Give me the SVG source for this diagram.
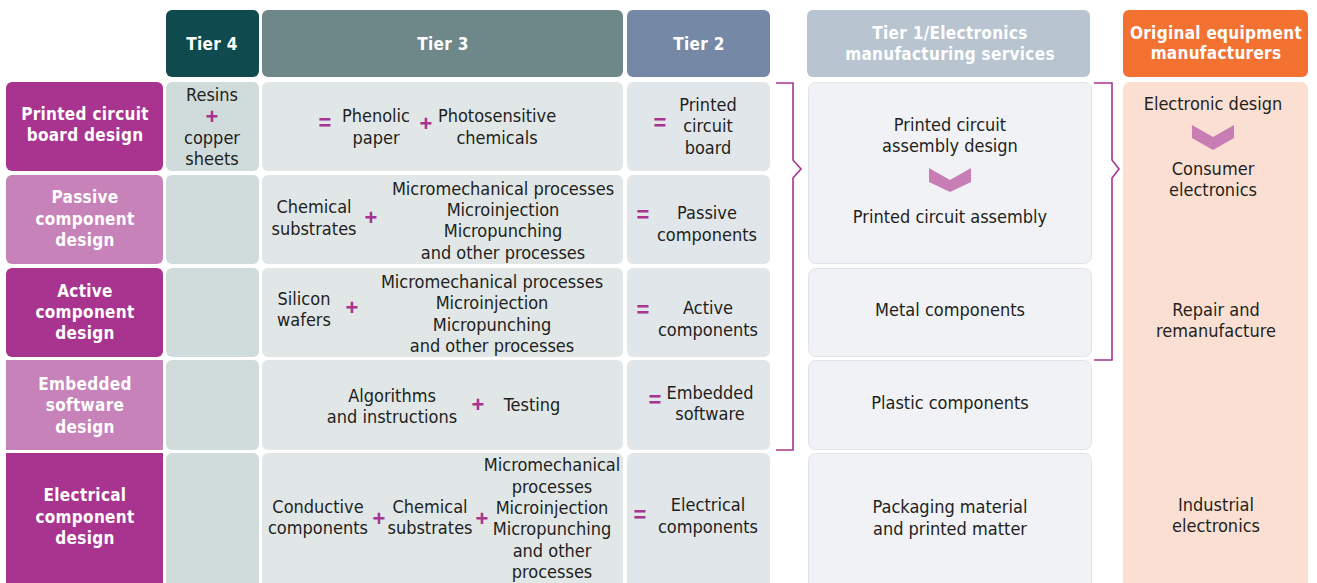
<svg xmlns="http://www.w3.org/2000/svg" width="1317" height="583" viewBox="0 0 1317 583">
<style>
.t{font-family:"DejaVu Sans Condensed","Liberation Sans",sans-serif;font-size:18px;fill:#231f20;text-anchor:middle}
.h{font-family:"DejaVu Sans Condensed","Liberation Sans",sans-serif;font-size:17px;font-weight:bold;fill:#ffffff;text-anchor:middle;letter-spacing:0.3px}
.op{font-family:"Liberation Sans","DejaVu Sans",sans-serif;font-size:22px;font-weight:bold;fill:#a8348f;text-anchor:middle}
.dk{fill:#a8348f}
.lt{fill:#c882ba}
.c4{fill:#d0dcdc}
.c3{fill:#e1e6e7}
.c2{fill:#e1e6ea}
.c1{fill:#f0f2f6;stroke:#dfe4ea;stroke-width:1}
.br{fill:none;stroke:#a8348f;stroke-width:1.6}
.chev{fill:#c87db5}
</style>

<g id="header-tier4"><rect x="166" y="10" width="93" height="67" rx="6" fill="#0f4a4e"/><text class="h" x="212" y="50">Tier 4</text></g>
<g id="header-tier3"><rect x="262" y="10" width="361" height="67" rx="6" fill="#6e8789"/><text class="h" x="443" y="50">Tier 3</text></g>
<g id="header-tier2"><rect x="627" y="10" width="143" height="67" rx="6" fill="#7589a6"/><text class="h" x="699" y="50">Tier 2</text></g>
<g id="header-tier1"><rect x="807" y="10" width="283" height="67" rx="6" fill="#b8c4cf"/><text class="h" x="950" y="39">Tier 1/Electronics</text><text class="h" x="950" y="60">manufacturing services</text></g>
<g id="header-oem"><rect x="1123" y="10" width="185" height="67" rx="6" fill="#f37232"/><text class="h" x="1216" y="39">Original equipment</text><text class="h" x="1216" y="59">manufacturers</text></g>

<g id="row-pcb-design"><rect class="dk" x="6" y="82" width="157" height="89" rx="6"/><text class="h" x="85" y="120">Printed circuit</text><text class="h" x="85" y="141">board design</text></g>
<g id="row-passive-design"><rect class="lt" x="6" y="175" width="157" height="89" rx="6"/><text class="h" x="85" y="203">Passive</text><text class="h" x="85" y="225">component</text><text class="h" x="85" y="246">design</text></g>
<g id="row-active-design"><rect class="dk" x="6" y="268" width="157" height="89" rx="6"/><text class="h" x="85" y="297">Active</text><text class="h" x="85" y="318">component</text><text class="h" x="85" y="339">design</text></g>
<g id="row-embedded-design"><rect class="lt" x="6" y="360" width="157" height="90"/><text class="h" x="85" y="390">Embedded</text><text class="h" x="85" y="411">software</text><text class="h" x="85" y="433">design</text></g>
<g id="row-electrical-design"><rect class="dk" x="6" y="453" width="157" height="140"/><text class="h" x="85" y="501">Electrical</text><text class="h" x="85" y="523">component</text><text class="h" x="85" y="544">design</text></g>

<g id="tier4-cells">
<rect class="c4" x="166" y="82" width="93" height="89" rx="6"/>
<rect class="c4" x="166" y="175" width="93" height="89" rx="6"/>
<rect class="c4" x="166" y="268" width="93" height="89" rx="6"/>
<rect class="c4" x="166" y="360" width="93" height="90" rx="6"/>
<rect class="c4" x="166" y="453" width="93" height="140" rx="6"/>
<text class="t" x="212" y="101">Resins</text><text class="op" x="212" y="124">+</text><text class="t" x="212" y="144">copper</text><text class="t" x="212" y="165">sheets</text>
</g>

<g id="tier3-cells">
<rect class="c3" x="262" y="82" width="361" height="89" rx="6"/>
<rect class="c3" x="262" y="175" width="361" height="89" rx="6"/>
<rect class="c3" x="262" y="268" width="361" height="89" rx="6"/>
<rect class="c3" x="262" y="360" width="361" height="90" rx="6"/>
<rect class="c3" x="262" y="453" width="361" height="140" rx="6"/>
</g>

<g id="tier3-pcb">
<text class="op" x="325" y="130">=</text>
<text class="t" x="376" y="122">Phenolic</text><text class="t" x="376" y="144">paper</text>
<text class="op" x="426" y="131">+</text>
<text class="t" x="497" y="122">Photosensitive</text><text class="t" x="497" y="144">chemicals</text>
</g>
<g id="tier3-passive">
<text class="t" x="314" y="213">Chemical</text><text class="t" x="314" y="235">substrates</text>
<text class="op" x="371" y="225">+</text>
<text class="t" x="503" y="195">Micromechanical processes</text><text class="t" x="503" y="216">Microinjection</text><text class="t" x="503" y="237">Micropunching</text><text class="t" x="503" y="259">and other processes</text>
</g>
<g id="tier3-active">
<text class="t" x="304" y="305">Silicon</text><text class="t" x="304" y="326">wafers</text>
<text class="op" x="352" y="315">+</text>
<text class="t" x="492" y="288">Micromechanical processes</text><text class="t" x="492" y="309">Microinjection</text><text class="t" x="492" y="331">Micropunching</text><text class="t" x="492" y="352">and other processes</text>
</g>
<g id="tier3-embedded">
<text class="t" x="392" y="402">Algorithms</text><text class="t" x="392" y="423">and instructions</text>
<text class="op" x="478" y="412">+</text>
<text class="t" x="532" y="411">Testing</text>
</g>
<g id="tier3-electrical">
<text class="t" x="318" y="513">Conductive</text><text class="t" x="318" y="534">components</text>
<text class="op" x="379" y="526">+</text>
<text class="t" x="430" y="513">Chemical</text><text class="t" x="430" y="534">substrates</text>
<text class="op" x="482" y="526">+</text>
<text class="t" x="552" y="471">Micromechanical</text><text class="t" x="552" y="493">processes</text><text class="t" x="552" y="514">Microinjection</text><text class="t" x="552" y="535">Micropunching</text><text class="t" x="552" y="557">and other</text><text class="t" x="552" y="578">processes</text>
</g>

<g id="tier2-cells">
<rect class="c2" x="627" y="82" width="143" height="89" rx="6"/>
<rect class="c2" x="627" y="175" width="143" height="89" rx="6"/>
<rect class="c2" x="627" y="268" width="143" height="89" rx="6"/>
<rect class="c2" x="627" y="360" width="143" height="90" rx="6"/>
<rect class="c2" x="627" y="453" width="143" height="140" rx="6"/>
</g>
<g id="tier2-pcb"><text class="op" x="660" y="130">=</text><text class="t" x="708" y="111">Printed</text><text class="t" x="708" y="132">circuit</text><text class="t" x="708" y="154">board</text></g>
<g id="tier2-passive"><text class="op" x="643" y="222">=</text><text class="t" x="707" y="219">Passive</text><text class="t" x="707" y="241">components</text></g>
<g id="tier2-active"><text class="op" x="643" y="317">=</text><text class="t" x="708" y="314">Active</text><text class="t" x="708" y="336">components</text></g>
<g id="tier2-embedded"><text class="op" x="655" y="407">=</text><text class="t" x="710" y="399">Embedded</text><text class="t" x="710" y="420">software</text></g>
<g id="tier2-electrical"><text class="op" x="640" y="522">=</text><text class="t" x="708" y="511">Electrical</text><text class="t" x="708" y="533">components</text></g>

<g id="tier1-pca"><rect class="c1" x="808.5" y="82.5" width="283" height="181" rx="7"/><text class="t" x="950" y="131">Printed circuit</text><text class="t" x="950" y="152">assembly design</text><text class="t" x="950" y="223">Printed circuit assembly</text></g>
<g id="tier1-metal"><rect class="c1" x="808.5" y="268.5" width="283" height="88" rx="7"/><text class="t" x="950" y="316">Metal components</text></g>
<g id="tier1-plastic"><rect class="c1" x="808.5" y="360.5" width="283" height="89" rx="7"/><text class="t" x="950" y="409">Plastic components</text></g>
<g id="tier1-packaging"><rect class="c1" x="808.5" y="453.5" width="283" height="140" rx="7"/><text class="t" x="950" y="513">Packaging material</text><text class="t" x="950" y="535">and printed matter</text></g>

<g id="oem-column"><rect x="1123" y="82" width="185" height="511" rx="7" fill="#fbdfd3"/>
<text class="t" x="1213" y="110">Electronic design</text>
<text class="t" x="1213" y="175">Consumer</text><text class="t" x="1213" y="196">electronics</text>
<text class="t" x="1216" y="316">Repair and</text><text class="t" x="1216" y="337">remanufacture</text>
<text class="t" x="1216" y="511">Industrial</text><text class="t" x="1216" y="532">electronics</text>
</g>

<g id="connectors">
<path class="br" d="M776,83 H793 V160 L801,169 L793,178 V450 H776"/>
<path class="br" d="M1094,83 H1112 V160 L1119,169 L1112,178 V360 H1094"/>
<path class="chev" d="M929,168 L950,180 L971,168 L971,182 L950,192 L929,182 Z"/>
<path class="chev" d="M1192,125 L1213,137 L1234,125 L1234,138 L1213,150 L1192,138 Z"/>
</g>
</svg>
